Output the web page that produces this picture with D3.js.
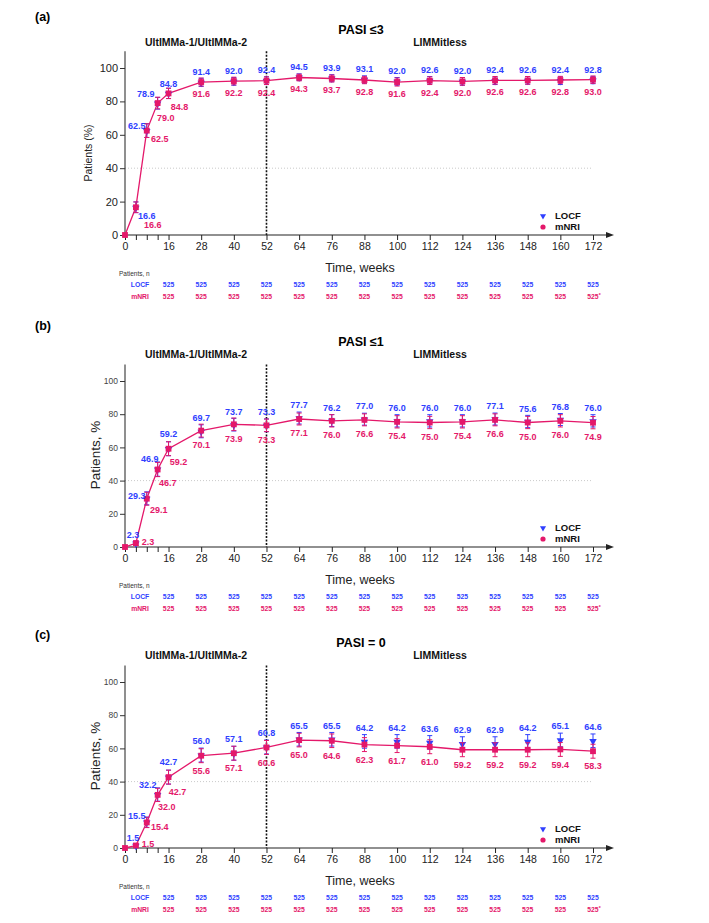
<!DOCTYPE html>
<html><head><meta charset="utf-8">
<script src="https://cdn.jsdelivr.net/npm/d3@7"></script>
<style>
html,body{margin:0;padding:0;background:#fff;}
svg{display:block;font-family:"Liberation Sans",Arial,Helvetica,sans-serif;}
</style></head>
<body><svg id="chart" width="709" height="923"></svg>
<script>
// ---------- data ----------
const weeks = [0,4,8,12,16,28,40,52,64,76,88,100,112,124,136,148,160,172];
const xLabelWeeks = [0,16,28,40,52,64,76,88,100,112,124,136,148,160,172];
const yTicks = [0,20,40,60,80,100];
const tableWeeks = [16,28,40,52,64,76,88,100,112,124,136,148,160,172];
const locfN = ["525","525","525","525","525","525","525","525","525","525","525","525","525","525"];
const mnriN = ["525","525","525","525","525","525","525","525","525","525","525","525","525","525*"];

const titles = ["PASI \u22643", "PASI \u22641", "PASI = 0"];
const panelTags = ["(a)", "(b)", "(c)"];
const yTitles = ["Patients (%)", "Patients, %", "Patients, %"];

const aLOCF = [0,16.6,62.5,78.9,84.8,91.4,92.0,92.4,94.5,93.9,93.1,92.0,92.6,92.0,92.4,92.6,92.4,92.8];
const aMNRI = [0,16.6,62.5,79.0,84.8,91.6,92.2,92.4,94.3,93.7,92.8,91.6,92.4,92.0,92.6,92.6,92.8,93.0];
const aErrL = [0,3.2,4.1,3.5,3.1,2.4,2.3,2.3,2.0,2.1,2.2,2.3,2.3,2.3,2.3,2.3,2.3,2.2];
const aErrM = [0,3.2,4.1,3.5,3.1,2.4,2.3,2.3,2.0,2.1,2.2,2.4,2.3,2.3,2.3,2.3,2.2,2.2];

const bLOCF = [0,2.3,29.3,46.9,59.2,69.7,73.7,73.3,77.7,76.2,77.0,76.0,76.0,76.0,77.1,75.6,76.8,76.0];
const bMNRI = [0,2.3,29.1,46.7,59.2,70.1,73.9,73.3,77.1,76.0,76.6,75.4,75.0,75.4,76.6,75.0,76.0,74.9];
const bErrL = [0,1.3,3.9,4.3,4.2,3.9,3.8,3.8,3.6,3.6,3.6,3.7,3.7,3.7,3.6,3.7,3.6,3.7];
const bErrM = [0,1.3,3.9,4.3,4.2,3.9,3.8,3.8,3.6,3.7,3.6,3.7,3.7,3.7,3.6,3.7,3.7,3.7];

const cLOCF = [0,1.5,15.5,32.2,42.7,56.0,57.1,60.8,65.5,65.5,64.2,64.2,63.6,62.9,62.9,64.2,65.1,64.6];
const cMNRI = [0,1.5,15.4,32.0,42.7,55.6,57.1,60.6,65.0,64.6,62.3,61.7,61.0,59.2,59.2,59.2,59.4,58.3];
const cErrL = [0,1.0,3.1,4.0,4.2,4.2,4.2,4.2,4.1,4.1,4.1,4.1,4.1,4.1,4.1,4.1,4.1,4.1];
const cErrM = [0,1.0,3.1,4.0,4.2,4.2,4.2,4.2,4.1,4.1,4.2,4.2,4.2,4.2,4.2,4.2,4.2,4.2];

// ---------- layout ----------
const BLUE = "#2f3fff", PINK = "#e4186a";
const svg = d3.select("#chart");
const x = d3.scaleLinear().domain([0,172]).range([125,593]);

const panels = [
  {locf:aLOCF, mnri:aMNRI, eL:aErrL, eM:aErrM, y0:235, y100:68, tagY:17, big:true, ylabY:153,
   shifts:{4:[11,9,17,18], 8:[-10,-5,13,8], 12:[-12,-9,8,15], 16:[0,-10,11,13]}},
  {locf:bLOCF, mnri:bMNRI, eL:bErrL, eM:bErrM, y0:547, y100:381, tagY:326, big:false, ylabY:455,
   shifts:{4:[-3,-8,12,-1], 8:[-10,-3,12,11], 12:[-8,-10,10,13], 16:[0,-15,10,13]}},
  {locf:cLOCF, mnri:cMNRI, eL:cErrL, eM:cErrM, y0:848, y100:682, tagY:635, big:false, ylabY:756,
   shifts:{4:[-3,-8,12,-2], 8:[-10,-6,13,4], 12:[-10,-10,9,12], 16:[0,-15,9,15]}}
];

panels.forEach((p, pi) => {
  const g = svg.append("g");
  const y = d3.scaleLinear().domain([0,100]).range([p.y0, p.y100]);
  const yTop = y(110);

  // headers
  g.append("text").attr("x",35).attr("y",p.tagY).attr("dy","0.35em")
    .attr("font-size",12.5).attr("font-weight","bold").text(panelTags[pi]);
  g.append("text").attr("x",361).attr("y",p.y0-205).attr("dy","0.35em").attr("text-anchor","middle")
    .attr("font-size",12.5).attr("font-weight","bold").text(titles[pi]);
  g.append("text").attr("x",196).attr("y",p.y0-193).attr("dy","0.35em").attr("text-anchor","middle")
    .attr("font-size",10.5).attr("font-weight","bold").attr("fill","#111").text("UltIMMa-1/UltIMMa-2");
  g.append("text").attr("x",440).attr("y",p.y0-193).attr("dy","0.35em").attr("text-anchor","middle")
    .attr("font-size",10.5).attr("font-weight","bold").attr("fill","#111").text("LIMMitless");

  // reference lines
  g.append("line").attr("x1",x(0)).attr("x2",x(172)).attr("y1",y(40)).attr("y2",y(40))
    .attr("stroke","#bbb").attr("stroke-width",0.8).attr("stroke-dasharray","1,2");
  g.append("line").attr("x1",x(52)).attr("x2",x(52)).attr("y1",yTop).attr("y2",p.y0)
    .attr("stroke","#111").attr("stroke-width",1.6).attr("stroke-dasharray","2,1.5");

  // y axis
  const yAxis = d3.axisLeft(y).tickValues(yTicks).tickSize(5).tickPadding(2);
  const ya = g.append("g").attr("transform",`translate(${x(0)},0)`).call(yAxis);
  ya.select(".domain").attr("d",`M-0,${p.y0}V${yTop}`).attr("stroke","#333").attr("stroke-width",1.1);
  ya.selectAll(".tick line").attr("stroke","#333");
  ya.selectAll(".tick text").attr("font-family","Liberation Sans, Arial, sans-serif")
    .attr("font-size",p.big?11:8.5).attr("fill",p.big?"#222":"#444");
  g.append("text").attr("transform",`translate(${p.big?88:95},${p.ylabY}) rotate(-90)`)
    .attr("text-anchor","middle").attr("dy","0.35em").attr("font-size",p.big?10.5:13.5).attr("fill","#222")
    .text(yTitles[pi]);

  // x axis
  const xAxis = d3.axisBottom(x).tickValues(weeks).tickSize(5).tickPadding(3)
    .tickFormat(d => xLabelWeeks.includes(d) ? d : "");
  const xa = g.append("g").attr("transform",`translate(0,${p.y0})`).call(xAxis);
  xa.select(".domain").attr("d",`M${x(0)},0H608`).attr("stroke","#222").attr("stroke-width",1.1);
  xa.selectAll(".tick line").attr("stroke","#222");
  xa.selectAll(".tick text").attr("font-family","Liberation Sans, Arial, sans-serif")
    .attr("font-size",10.5).attr("fill","#222");
  g.append("path").attr("d",`M606,${p.y0-3}L614,${p.y0}L606,${p.y0+3}Z`).attr("fill","#222");
  g.append("text").attr("x",360).attr("y",p.y0+33).attr("dy","0.35em").attr("text-anchor","middle")
    .attr("font-size",12.5).attr("fill","#222").text("Time, weeks");

  // mNRI line
  const line = d3.line().x((d,i)=>x(weeks[i])).y(d=>y(d));
  g.append("path").attr("d",line(p.mnri)).attr("fill","none").attr("stroke",PINK).attr("stroke-width",1.3);

  const errBar = (vals, errs, color) => {
    weeks.forEach((w,i) => {
      if (errs[i] <= 0) return;
      const cx = x(w), t = y(vals[i]+errs[i]), b = y(vals[i]-errs[i]);
      g.append("path").attr("d",`M${cx},${t}V${b}M${cx-2.5},${t}H${cx+2.5}M${cx-2.5},${b}H${cx+2.5}`)
        .attr("stroke",color).attr("stroke-width",1).attr("fill","none");
    });
  };
  errBar(p.locf, p.eL, BLUE);
  const tri = d3.symbol().type(d3.symbolTriangle).size(24);
  weeks.forEach((w,i) => {
    if (w === 0) return;
    g.append("path").attr("d",tri()).attr("fill",BLUE)
      .attr("transform",`translate(${x(w)},${y(p.locf[i])+0.5}) rotate(180)`);
  });
  errBar(p.mnri, p.eM, PINK);
  const sq = d3.symbol().type(d3.symbolSquare).size(34);
  weeks.forEach((w,i) => {
    g.append("path").attr("d",sq()).attr("fill",PINK)
      .attr("transform",`translate(${x(w)},${y(p.mnri[i])})`);
  });

  // value labels
  weeks.forEach((w,i) => {
    if (w === 0) return;
    let lx, ly, mx, my;
    const s = p.shifts[w];
    if (s) {
      lx = x(w)+s[0]; ly = y(p.locf[i])+s[1];
      mx = x(w)+s[2]; my = y(p.mnri[i])+s[3];
    } else {
      lx = x(w); ly = y(p.locf[i]+p.eL[i])-7;
      mx = x(w); my = y(p.mnri[i]-p.eM[i])+8;
    }
    g.append("text").attr("x",lx).attr("y",ly).attr("dy","0.35em").attr("text-anchor","middle")
      .attr("font-size",9).attr("font-weight","bold").attr("fill",BLUE).text(p.locf[i].toFixed(1));
    g.append("text").attr("x",mx).attr("y",my).attr("dy","0.35em").attr("text-anchor","middle")
      .attr("font-size",9).attr("font-weight","bold").attr("fill",PINK).text(p.mnri[i].toFixed(1));
  });

  // legend
  const legTri = d3.symbol().type(d3.symbolTriangle).size(16);
  g.append("path").attr("d",legTri()).attr("fill",BLUE).attr("transform",`translate(543,${p.y0-19}) rotate(180)`);
  g.append("circle").attr("cx",543).attr("cy",p.y0-8).attr("r",2.6).attr("fill",PINK);
  g.append("text").attr("x",555).attr("y",p.y0-19).attr("dy","0.35em").attr("font-size",9.5)
    .attr("font-weight","bold").attr("fill","#111").text("LOCF");
  g.append("text").attr("x",555).attr("y",p.y0-8).attr("dy","0.35em").attr("font-size",9.5)
    .attr("font-weight","bold").attr("fill","#111").text("mNRI");

  // patients table
  g.append("text").attr("x",119).attr("y",p.y0+39).attr("dy","0.35em").attr("font-size",6.5)
    .attr("fill","#333").text("Patients, n");
  g.append("text").attr("x",140).attr("y",p.y0+50).attr("dy","0.35em").attr("text-anchor","middle")
    .attr("font-size",6.8).attr("font-weight","bold").attr("fill",BLUE).text("LOCF");
  g.append("text").attr("x",140).attr("y",p.y0+62).attr("dy","0.35em").attr("text-anchor","middle")
    .attr("font-size",6.8).attr("font-weight","bold").attr("fill",PINK).text("mNRI");
  tableWeeks.forEach((w,i) => {
    g.append("text").attr("x",x(w)).attr("y",p.y0+50).attr("dy","0.35em").attr("text-anchor","middle")
      .attr("font-size",6.8).attr("font-weight","bold").attr("fill",BLUE).text(locfN[i]);
    const t = g.append("text").attr("x",x(w)).attr("y",p.y0+62).attr("dy","0.35em").attr("text-anchor","middle")
      .attr("font-size",6.8).attr("font-weight","bold").attr("fill",PINK);
    if (mnriN[i].endsWith("*")) {
      t.attr("text-anchor","start").attr("x",x(w)-5.7);
      t.append("tspan").text(mnriN[i].slice(0,-1));
      t.append("tspan").attr("dy","-0.4em").attr("font-size",5).text("*");
    } else t.text(mnriN[i]);
  });
});
</script></body></html>
